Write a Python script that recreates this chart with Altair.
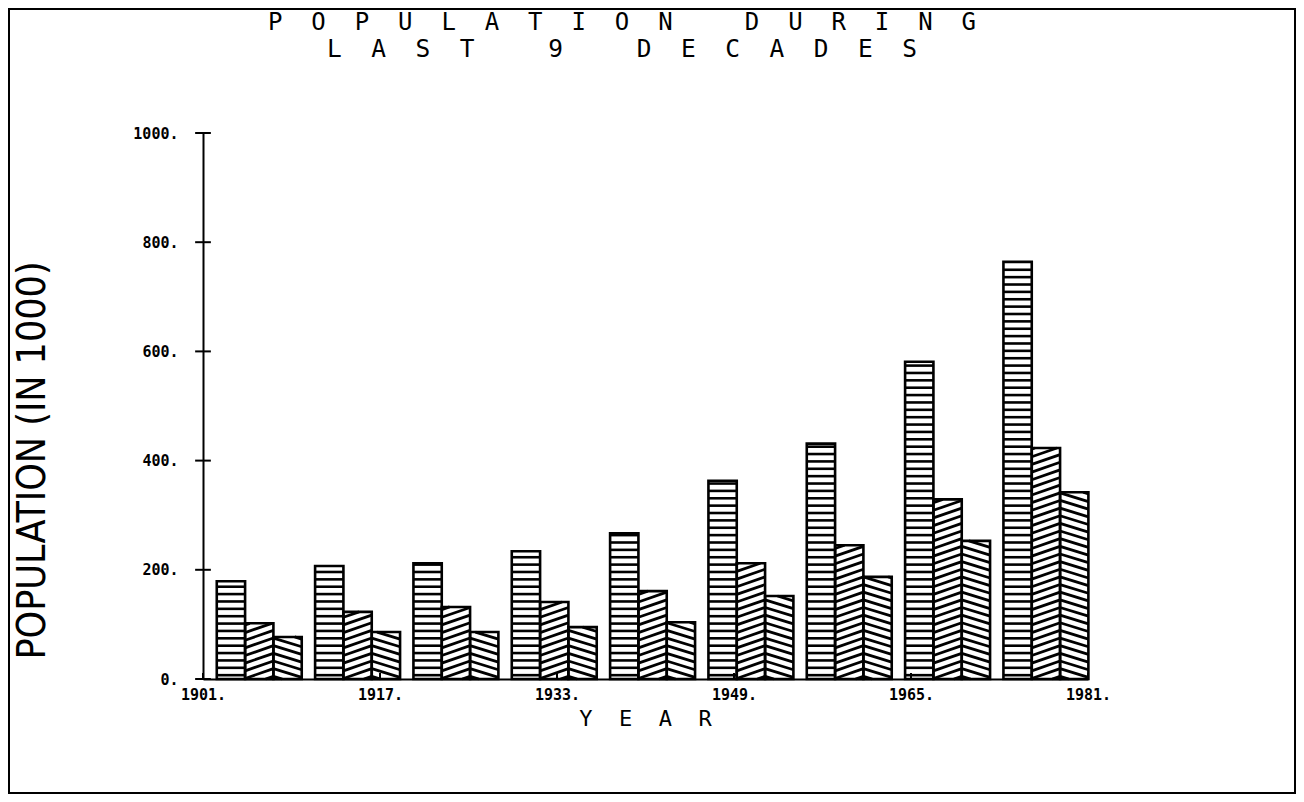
import altair as alt
import pandas as pd

# ---------------- data ----------------
decades = ["1901", "1911", "1921", "1931", "1941", "1951", "1961", "1971", "1981"]
series_names = ["Series 1", "Series 2", "Series 3"]
values_s1 = [179, 207, 212, 234, 267, 363, 431, 581, 764]
values_s2 = [102, 123, 132, 141, 161, 212, 245, 329, 423]
values_s3 = [77, 86, 86, 95, 104, 152, 187, 253, 342]
y_ticks = [0, 200, 400, 600, 800, 1000]
x_tick_labels = ["1901.", "1917.", "1933.", "1949.", "1965.", "1981."]
title_lines = ["POPULATION DURING", "LAST 9 DECADES"]
x_title = "YEAR"
y_title = "POPULATION (IN 1000)"

# ---------------- table built from the arrays ----------------
all_series = [values_s1, values_s2, values_s3]
rows = []
for g, d in enumerate(decades):
    for s, vals in enumerate(all_series):
        rows.append({"decade": d, "g": g, "s": s, "series": series_names[s], "value": vals[g]})
df = pd.DataFrame(rows)

n_groups = len(decades)
x_tick_pos = [i * n_groups / (len(x_tick_labels) - 1) for i in range(len(x_tick_labels))]
step = n_groups / (len(x_tick_labels) - 1)


def spaced(s):
    return "\u00a0\u00a0".join(ch if ch != " " else "\u00a0" for ch in s)


MONO = "DejaVu Sans Mono"
NARROW = "Liberation Sans Narrow, DejaVu Sans Condensed, sans-serif"

xs = alt.Scale(domain=[0, n_groups], nice=False, zero=False)
ys = alt.Scale(domain=[0, 1000], nice=False)

label_arr = "[" + ",".join("'" + l + "'" for l in x_tick_labels) + "]"
x_axis = alt.Axis(
    values=x_tick_pos,
    labelExpr=label_arr + "[round(datum.value / " + str(step) + ")]",
    ticks=False, tickSize=0, grid=False,
    domainColor="black", domainWidth=2,
    labelFont=MONO, labelFontSize=15, labelFontWeight="bold", labelColor="black",
    labelPadding=8, labelBaseline="top", labelFlush=False, labelOverlap=False,
    title=spaced(x_title), titleFont=MONO, titleFontSize=22, titleFontWeight="normal",
    titleColor="black", titleX=442, titleY=39, titleAlign="center", titleBaseline="middle",
)
y_axis = alt.Axis(
    values=y_ticks,
    labelExpr="datum.value + '.'",
    ticks=False, tickSize=0, grid=False,
    domainColor="black", domainWidth=2,
    labelFont=MONO, labelFontSize=15, labelFontWeight="bold", labelColor="black",
    labelPadding=25, labelFlush=False, labelOverlap=False,
    title=y_title, titleFont=NARROW, titleFontSize=39, titleFontWeight="normal",
    titleColor="black", titleAngle=270, titleX=-171, titleY=327,
    titleAlign="center", titleBaseline="middle",
)

BW = 0.288   # bar width in group units
G0 = 0.14    # left gap of group

base = alt.Chart(df).transform_calculate(
    xl=f"datum.g + {G0} + datum.s * {BW}"
).transform_calculate(
    xr=f"datum.xl + {BW}"
)

fill_layer = base.mark_rect(fill="white").encode(
    x=alt.X("xl:Q", scale=xs, axis=x_axis),
    x2="xr:Q",
    y=alt.Y("value:Q", scale=ys, axis=y_axis),
    y2=alt.datum(0),
)

hstripes = (
    base.transform_filter("datum.s == 0")
    .transform_calculate(ysq="sequence(7, datum.value - 2, 13.5)")
    .transform_flatten(["ysq"])
    .mark_rule(color="black", strokeWidth=2.6)
    .encode(
        x=alt.X("xl:Q", scale=xs, axis=x_axis),
        x2="xr:Q",
        y=alt.Y("ysq:Q", scale=ys, axis=y_axis),
    )
)

dstripes = (
    base.transform_filter("datum.s > 0")
    .transform_calculate(rise="datum.s == 1 ? 18 : 16")
    .transform_calculate(w="datum.xr - datum.xl")
    .transform_calculate(bs="sequence(-datum.rise + 5, datum.value, 14)")
    .transform_flatten(["bs"])
    .transform_calculate(
        t0="datum.s == 1 ? max(0, -datum.bs / datum.rise) : max(0, 1 - (datum.value - datum.bs) / datum.rise)"
    )
    .transform_calculate(
        t1="datum.s == 1 ? min(1, (datum.value - datum.bs) / datum.rise) : min(1, 1 + datum.bs / datum.rise)"
    )
    .transform_filter("datum.t1 > datum.t0 + 0.03")
    .transform_calculate(px1="datum.xl + datum.t0 * datum.w")
    .transform_calculate(px2="datum.xl + datum.t1 * datum.w")
    .transform_calculate(
        py1="datum.s == 1 ? datum.bs + datum.rise * datum.t0 : datum.bs + datum.rise * (1 - datum.t0)"
    )
    .transform_calculate(
        py2="datum.s == 1 ? datum.bs + datum.rise * datum.t1 : datum.bs + datum.rise * (1 - datum.t1)"
    )
    .mark_rule(color="black", strokeWidth=2.8)
    .encode(
        x=alt.X("px1:Q", scale=xs, axis=x_axis),
        x2="px2:Q",
        y=alt.Y("py1:Q", scale=ys, axis=y_axis),
        y2="py2:Q",
    )
)

outline = base.mark_rect(fillOpacity=0, stroke="black", strokeWidth=2.6).encode(
    x=alt.X("xl:Q", scale=xs, axis=x_axis),
    x2="xr:Q",
    y=alt.Y("value:Q", scale=ys, axis=y_axis),
    y2=alt.datum(0),
)

ytick_layer = alt.Chart(pd.DataFrame({"v": y_ticks})).mark_rule(color="black", strokeWidth=2).encode(
    x=alt.X(datum=-0.08, scale=xs, axis=x_axis),
    x2=alt.datum(0.08),
    y=alt.Y("v:Q", scale=ys, axis=y_axis),
)

xtick_layer = alt.Chart(pd.DataFrame({"p": x_tick_pos})).mark_rule(color="black", strokeWidth=2).encode(
    x=alt.X("p:Q", scale=xs, axis=x_axis),
    y=alt.Y(datum=0, scale=ys, axis=y_axis),
    y2=alt.datum(11),
)

title1 = alt.Chart(pd.DataFrame({"t": [spaced(title_lines[0])]})).mark_text(
    font=MONO, fontSize=24, align="center", baseline="middle", color="black"
).encode(text="t:N", x=alt.value(419), y=alt.value(-110))

title2 = alt.Chart(pd.DataFrame({"t": [spaced(title_lines[1])]})).mark_text(
    font=MONO, fontSize=24.5, align="center", baseline="middle", color="black"
).encode(text="t:N", x=alt.value(419), y=alt.value(-83))

frame = alt.Chart(pd.DataFrame({"k": [0]})).mark_rect(
    fillOpacity=0, stroke="black", strokeWidth=2
).encode(x=alt.value(-194), x2=alt.value(1092), y=alt.value(-124), y2=alt.value(660))

chart = alt.layer(
    fill_layer, hstripes, dstripes, outline, ytick_layer, xtick_layer, title1, title2, frame
).properties(
    width=885,
    height=546,
    padding={"left": 195, "top": 125, "right": 208, "bottom": 115},
    autosize=alt.AutoSizeParams(type="none"),
    background="white",
).configure_view(stroke=None)

chart.save("out.html", embed_options={"renderer": "svg", "actions": False})
